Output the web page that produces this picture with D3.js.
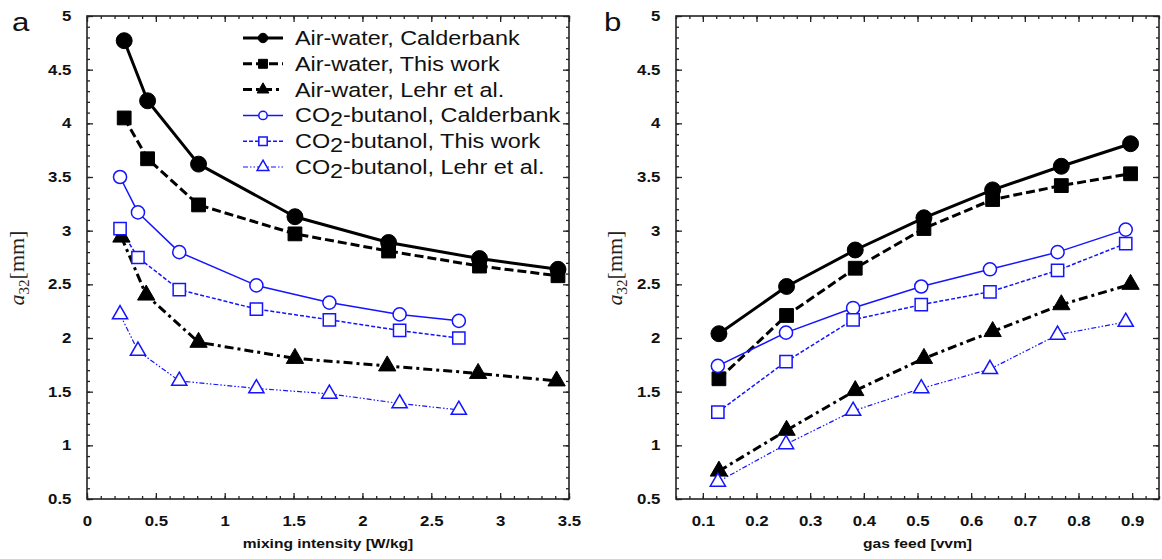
<!DOCTYPE html>
<html><head><meta charset="utf-8">
<script src="https://cdn.jsdelivr.net/npm/d3@7"></script>
<style>body{margin:0;background:#fff}svg{display:block}</style>
</head><body>
<svg id="c" width="1162" height="559"></svg>
<script>
// ---------- data ----------
const yTicks = [0.5,1,1.5,2,2.5,3,3.5,4,4.5,5];
const mixTicks = [0,0.5,1,1.5,2,2.5,3,3.5];
const gasTicks = [0.1,0.2,0.3,0.4,0.5,0.6,0.7,0.8,0.9];

const seriesNames = ["Air-water, Calderbank","Air-water, This work","Air-water, Lehr et al.",
  "CO2-butanol, Calderbank","CO2-butanol, This work","CO2-butanol, Lehr et al."];

// panel a: mixing intensity [W/kg]
const mixAirX   = [0.27, 0.44, 0.81, 1.51, 2.19, 2.85, 3.42];
const mixAirCal = [4.77, 4.21, 3.62, 3.13, 2.89, 2.74, 2.64];
const mixAirTW  = [4.05, 3.67, 3.24, 2.97, 2.81, 2.67, 2.58];
const mixAirLehrX = [0.25, 0.43, 0.81, 1.51, 2.18, 2.84, 3.41];
const mixAirLehr  = [2.94, 2.40, 1.96, 1.81, 1.74, 1.67, 1.60];
const mixCO2X   = [0.24, 0.37, 0.67, 1.23, 1.76, 2.27, 2.70];
const mixCO2Cal = [3.50, 3.17, 2.80, 2.49, 2.33, 2.22, 2.16];
const mixCO2TW  = [3.02, 2.75, 2.45, 2.27, 2.17, 2.07, 2.00];
const mixCO2Lehr= [2.22, 1.88, 1.60, 1.53, 1.48, 1.39, 1.33];

// panel b: gas feed [vvm]
const gasAirX   = [0.130, 0.256, 0.384, 0.512, 0.640, 0.768, 0.897];
const gasAirCal = [2.04, 2.48, 2.82, 3.12, 3.38, 3.60, 3.81];
const gasAirTW  = [1.62, 2.21, 2.65, 3.02, 3.29, 3.42, 3.53];
const gasAirLehr= [0.76, 1.14, 1.51, 1.81, 2.06, 2.31, 2.50];
const gasCO2X   = [0.128, 0.255, 0.380, 0.507, 0.635, 0.761, 0.888];
const gasCO2Cal = [1.74, 2.05, 2.28, 2.48, 2.64, 2.80, 3.01];
const gasCO2TW  = [1.31, 1.78, 2.17, 2.31, 2.43, 2.63, 2.88];
const gasCO2Lehr= [0.66, 1.01, 1.32, 1.53, 1.71, 2.03, 2.15];

// ---------- styles ----------
const BLUE = "#1414ff";
const styles = [
  {color:"#000", w:3,   dash:null,            sym:d3.symbolCircle,   size:200, fill:"#000", lsize:70},
  {color:"#000", w:3,   dash:"9,4",           sym:d3.symbolSquare,   size:190, fill:"#000", lsize:80},
  {color:"#000", w:3,   dash:"9,4,3,4",       sym:d3.symbolTriangle, size:130, fill:"#000", lsize:60},
  {color:BLUE,   w:1.5, dash:null,            sym:d3.symbolCircle,   size:135, fill:"#fff", lsize:55},
  {color:BLUE,   w:1.5, dash:"4,2",           sym:d3.symbolSquare,   size:150, fill:"#fff", lsize:70},
  {color:BLUE,   w:1.2, dash:"5,2,1.5,2,1.5,2",sym:d3.symbolTriangle,size:100, fill:"#fff", lsize:60}
];

const SX = 1.2; // horizontal text stretch of the source image
const svg = d3.select("#c");
const y = d3.scaleLinear([0.5,5],[499,16]);

function minorRange(a,b,s){const r=[];for(let v=a;v<=b+1e-9;v+=s)r.push(+v.toFixed(4));return r;}

function panel(x, majorX, minorX, xTitle, letter, letterX, yTitleX, data){
  const [x0,x1] = x.range(), [y0,y1] = y.range();
  const g = svg.append("g");
  const fmt = d => String(d);
  const axisStyle = sel => { sel.select(".domain").remove(); sel.selectAll("line").attr("stroke","#222").attr("stroke-width",1.3); };
  // bottom
  g.append("g").attr("transform",`translate(0,${y0})`)
    .call(d3.axisBottom(x).tickValues(minorX).tickSize(-3).tickFormat(""))
    .call(axisStyle);
  const bx = g.append("g").attr("transform",`translate(0,${y0})`)
    .call(d3.axisBottom(x).tickValues(majorX).tickSize(-6).tickPadding(17).tickFormat(fmt))
    .call(axisStyle);
  bx.selectAll("text").attr("font-family","Liberation Sans, Arial, sans-serif").attr("font-weight","bold")
    .attr("font-size",14).attr("fill","#111").attr("transform",`scale(${SX},1)`);
  // top
  g.append("g").attr("transform",`translate(0,${y1})`)
    .call(d3.axisTop(x).tickValues(minorX).tickSize(-3).tickFormat("")).call(axisStyle);
  g.append("g").attr("transform",`translate(0,${y1})`)
    .call(d3.axisTop(x).tickValues(majorX).tickSize(-6).tickFormat("")).call(axisStyle);
  // left
  const yMinor = minorRange(0.5,5,0.1);
  g.append("g").attr("transform",`translate(${x0},0)`)
    .call(d3.axisLeft(y).tickValues(yMinor).tickSize(-3).tickFormat("")).call(axisStyle);
  const ly = g.append("g").attr("transform",`translate(${x0},0)`)
    .call(d3.axisLeft(y).tickValues(yTicks).tickSize(-6).tickPadding(13).tickFormat(fmt)).call(axisStyle);
  ly.selectAll("text").attr("font-family","Liberation Sans, Arial, sans-serif").attr("font-weight","bold")
    .attr("font-size",14).attr("fill","#111").attr("transform",`scale(${SX},1)`);
  // right
  g.append("g").attr("transform",`translate(${x1},0)`)
    .call(d3.axisRight(y).tickValues(yMinor).tickSize(-3).tickFormat("")).call(axisStyle);
  g.append("g").attr("transform",`translate(${x1},0)`)
    .call(d3.axisRight(y).tickValues(yTicks).tickSize(-6).tickFormat("")).call(axisStyle);
  // frame
  g.append("rect").attr("x",x0).attr("y",y1).attr("width",x1-x0).attr("height",y0-y1)
    .attr("fill","none").attr("stroke","#222").attr("stroke-width",1.6);
  // titles
  g.append("text").attr("transform",`translate(${(x0+x1)/2},548) scale(${SX},1)`)
    .attr("text-anchor","middle").attr("font-family","Liberation Sans, Arial, sans-serif")
    .attr("font-weight","bold").attr("font-size",13).attr("fill","#111").text(xTitle);
  g.append("text").attr("transform",`translate(${letterX},31) scale(${SX},1)`)
    .attr("font-family","Liberation Sans, Arial, sans-serif").attr("font-size",26).attr("fill","#111").text(letter);
  const yt = g.append("text").attr("transform",`translate(${yTitleX},268) rotate(-90)`)
    .attr("text-anchor","middle").attr("font-family","Liberation Serif, Times New Roman, serif")
    .attr("font-size",22).attr("fill","#222");
  yt.append("tspan").attr("font-style","italic").text("a");
  yt.append("tspan").attr("font-size",15).attr("dy",5).text("32");
  yt.append("tspan").attr("dy",-5).text("[mm]");
  // series
  const line = d3.line().x(d=>x(d[0])).y(d=>y(d[1]));
  data.forEach((s,i)=>{
    const st = styles[i];
    const pts = s.x.map((v,j)=>[v,s.y[j]]);
    g.append("path").attr("d",line(pts)).attr("fill","none").attr("stroke",st.color)
      .attr("stroke-width",st.w).attr("stroke-dasharray",st.dash).attr("stroke-linejoin","round");
  });
  data.forEach((s,i)=>{
    const st = styles[i];
    const pts = s.x.map((v,j)=>[v,s.y[j]]);
    g.selectAll(null).data(pts).enter().append("path")
      .attr("d",d3.symbol().type(st.sym).size(st.size))
      .attr("transform",d=>`translate(${x(d[0])},${y(d[1])})`)
      .attr("fill",st.fill).attr("stroke",st.color).attr("stroke-width",i<3?1:1.5);
  });
  return g;
}

const xA = d3.scaleLinear([0,3.5],[87,569]);
const gA = panel(xA, mixTicks, minorRange(0,3.5,0.1), "mixing intensity [W/kg]", "a", 12, 24, [
  {x:mixAirX, y:mixAirCal},{x:mixAirX, y:mixAirTW},{x:mixAirLehrX, y:mixAirLehr},
  {x:mixCO2X, y:mixCO2Cal},{x:mixCO2X, y:mixCO2TW},{x:mixCO2X, y:mixCO2Lehr}]);

const xB = d3.scaleLinear([0.05,0.95],[676,1159]);
panel(xB, gasTicks, minorRange(0.05,0.95,0.025), "gas feed [vvm]", "b", 604, 622, [
  {x:gasAirX, y:gasAirCal},{x:gasAirX, y:gasAirTW},{x:gasAirX, y:gasAirLehr},
  {x:gasCO2X, y:gasCO2Cal},{x:gasCO2X, y:gasCO2TW},{x:gasCO2X, y:gasCO2Lehr}]);

// legend (panel a)
const lg = gA.append("g");
seriesNames.forEach((name,i)=>{
  const st = styles[i];
  const yy = 38 + i*25.8;
  lg.append("line").attr("x1",243).attr("x2",283).attr("y1",yy).attr("y2",yy)
    .attr("stroke",st.color).attr("stroke-width",st.w).attr("stroke-dasharray",st.dash);
  lg.append("path").attr("d",d3.symbol().type(st.sym).size(st.lsize)())
    .attr("transform",`translate(263,${yy})`).attr("fill",st.fill).attr("stroke",st.color)
    .attr("stroke-width",i<3?1:1.5);
  const t = lg.append("text").attr("transform",`translate(295,${yy+7}) scale(${SX},1)`)
    .attr("font-family","Liberation Sans, Arial, sans-serif").attr("font-size",19.5).attr("fill","#111");
  if (name.startsWith("CO2")) {
    t.append("tspan").text("CO");
    t.append("tspan").attr("dy",4).text("2");
    t.append("tspan").attr("dy",-4).text(name.slice(3));
  } else t.text(name);
});
</script>
</body></html>
